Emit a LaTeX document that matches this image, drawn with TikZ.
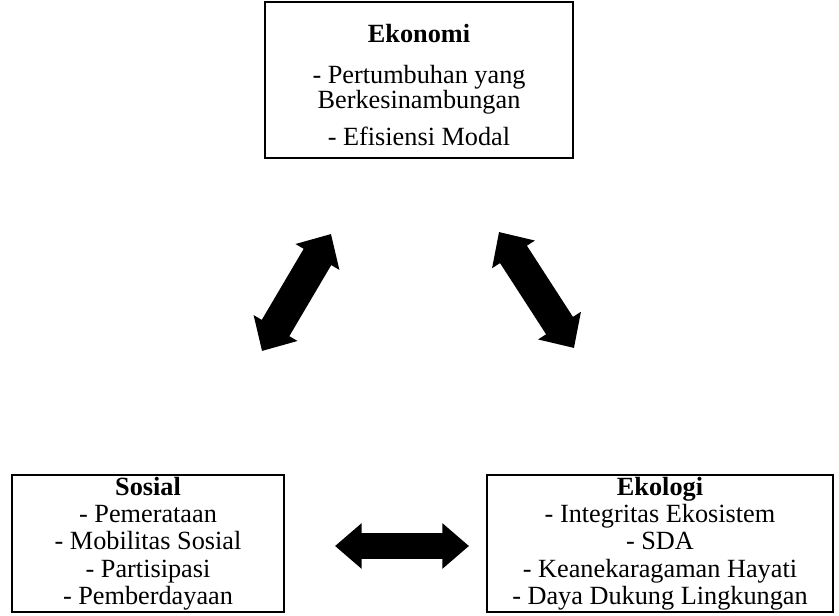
\documentclass[tikz,border=0pt]{standalone}
\usepackage{fontspec}
\setmainfont{Liberation Serif}
\usetikzlibrary{arrows.meta}
\tikzset{
  caixa/.style={draw, line width=1.7pt, align=center, inner sep=0pt,
    font=\fontsize{19.7}{20.5}\selectfont},
  seta/.style 2 args={line width=#1,
    {Triangle[width=#2,length=20pt]}-{Triangle[width=#2,length=20pt]}}
}
\begin{document}
\begin{tikzpicture}[x=0.75pt, y=-0.75pt]
    \useasboundingbox (0,0) rectangle (839,616);
    \node[caixa, minimum width=231pt, minimum height=117pt,
      font=\fontsize{19.7}{18.75}\selectfont] (ekonomi) at (419,80)
      {\rule{0pt}{21pt}\textbf{Ekonomi}\\[12pt] - Pertumbuhan yang\\ Berkesinambungan\\[9pt] - Efisiensi Modal}; % Caixa de cima
    \node[caixa, minimum width=204pt, minimum height=103pt] (sosial) at (148,543.5)
      {\textbf{Sosial}\\ - Pemerataan\\ - Mobilitas Sosial\\ - Partisipasi\\ - Pemberdayaan}; % Caixa da esquerda
    \node[caixa, minimum width=259.5pt, minimum height=103pt] (ekologi) at (660,543.5)
      {\textbf{Ekologi}\\ - Integritas Ekosistem\\ - SDA\\ - Keanekaragaman Hayati\\ - Daya Dukung Lingkungan}; % Caixa da direita
    \coordinate (e1) at (331,234); % Ponta de cima, esquerda
    \coordinate (s1) at (262,351); % Ponta de baixo, esquerda
    \coordinate (e2) at (499,232); % Ponta de cima, direita
    \coordinate (k1) at (574,348); % Ponta de baixo, direita
    \coordinate (s2) at (335,546); % Ponta esquerda
    \coordinate (k2) at (469,546); % Ponta direita
    \draw[seta={24pt}{37pt}] (e1) -- (s1); % Seta Ekonomi-Sosial
    \draw[seta={24pt}{37pt}] (e2) -- (k1); % Seta Ekonomi-Ekologi
    \draw[seta={19pt}{33pt}] (s2) -- (k2); % Seta Sosial-Ekologi
\end{tikzpicture}
\end{document}
